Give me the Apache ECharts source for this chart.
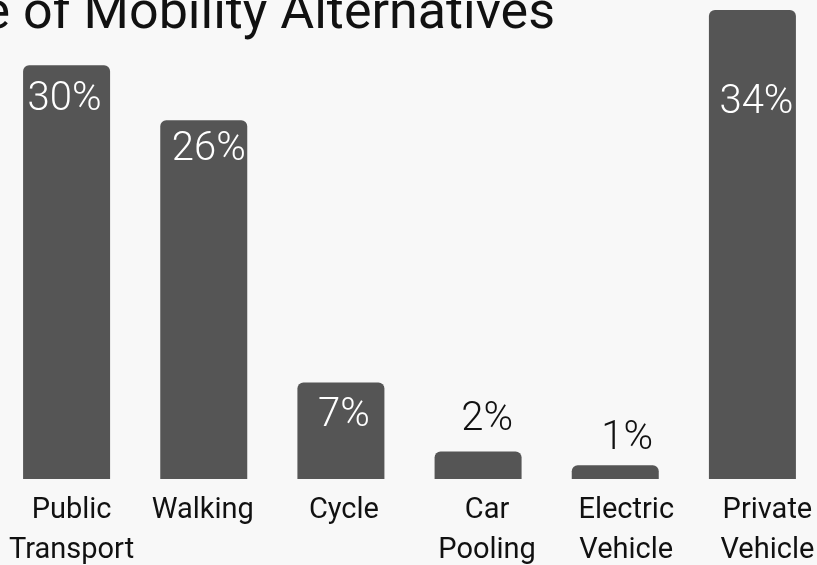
<!DOCTYPE html>
<html>
<head>
<meta charset="utf-8">
<title>Usage of Mobility Alternatives</title>
<script src="https://cdn.jsdelivr.net/npm/echarts@6/dist/echarts.min.js"></script>
<style>
  html, body { margin: 0; padding: 0; background: #f8f8f8; }
  #chart { width: 817px; height: 565px; }
</style>
</head>
<body>
<div id="chart"></div>
<script>
// Share of trips by mode (percent)
const categories = ['Public\nTransport', 'Walking', 'Cycle', 'Car\nPooling', 'Electric\nVehicle', 'Private\nVehicle'];
const shares = [30, 26, 7, 2, 1, 34];
const titleText = 'Usage of Mobility Alternatives';

// Label placement per bar: inside the bar when tall enough, above it otherwise
const valueLabelPos = ['insideTop', 'insideTop', 'insideTop', 'top', 'top', 'insideTop'];
const valueLabelOffset = [[-2, 15], [5, 10], [3, 14], [9, -11], [12, -6], [4, 73]];
const axisLabelShift = [5, -1, 3, 9, 11, 15];

const BAR = '#555555';

const chart = echarts.init(document.getElementById('chart'), null, { renderer: 'canvas' });

const barData = shares.map((v, i) => {
  const inside = valueLabelPos[i] !== 'top';
  return {
    value: v,
    label: {
      position: valueLabelPos[i],
      offset: valueLabelOffset[i],
      color: inside ? '#ffffff' : '#111111'
    }
  };
});

const axisData = categories.map((c, i) => {
  const s = axisLabelShift[i];
  return {
    value: c,
    textStyle: { padding: s >= 0 ? [0, 0, 0, 2 * s] : [0, -2 * s, 0, 0] }
  };
});

chart.setOption({
  backgroundColor: '#f8f8f8',
  animation: false,
  title: {
    text: titleText,
    right: 257,
    top: -16,
    textStyle: {
      fontFamily: 'Roboto',
      fontWeight: 'normal',
      fontSize: 52,
      color: '#111111'
    }
  },
  grid: {
    left: -2, width: 823, top: 10, bottom: 86,
    containLabel: false,
    outerBoundsMode: 'none'
  },
  xAxis: {
    type: 'category',
    data: axisData,
    axisLine: { show: false },
    axisTick: { show: false },
    axisLabel: {
      interval: 0,
      margin: 12,
      fontFamily: 'Roboto',
      fontSize: 29,
      lineHeight: 40,
      color: '#111111'
    }
  },
  yAxis: {
    type: 'value',
    min: 0,
    max: 34,
    show: false,
    splitLine: { show: false }
  },
  series: [{
    type: 'bar',
    data: barData,
    barWidth: 87,
    itemStyle: { color: BAR, borderRadius: [6, 6, 0, 0] },
    label: {
      show: true,
      formatter: '{c}%',
      fontFamily: 'Roboto',
      fontWeight: 300,
      fontSize: 40,
      distance: 0
    }
  }]
});
</script>
</body>
</html>
